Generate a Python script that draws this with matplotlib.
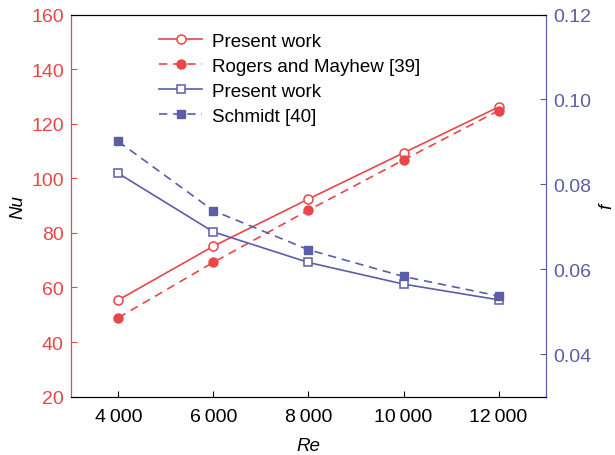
import matplotlib
matplotlib.use("Agg")
import matplotlib.pyplot as plt

plt.rcParams["font.family"] = ["Liberation Sans", "DejaVu Sans"]
plt.rcParams["font.size"] = 13.5

RED = "#e8474a"
BLUE = "#5b5ea6"

re_vals = [4000, 6000, 8000, 10000, 12000]
re_labels = ["4\u2009000", "6\u2009000", "8\u2009000", "10\u2009000", "12\u2009000"]

nu_present = [55.4, 75.1, 92.4, 109.3, 126.1]
nu_rogers = [48.9, 69.2, 88.3, 106.7, 124.8]

f_present = [0.0826, 0.0688, 0.0616, 0.0565, 0.0528]
f_schmidt = [0.0901, 0.0738, 0.0646, 0.0583, 0.0537]

fig, ax = plt.subplots(figsize=(6.15, 4.56), dpi=100)
fig.subplots_adjust(left=0.115, right=0.888, top=0.966, bottom=0.128)
ax2 = ax.twinx()

h1, = ax.plot(re_vals, nu_present, "-o", color=RED, lw=1.2, ms=6.5,
              mfc="white", mec=RED, mew=1.1, label="Present work")
h2, = ax.plot(re_vals, nu_rogers, "--o", color=RED, lw=1.2, ms=6.5,
              mfc=RED, mec=RED, label="Rogers and Mayhew [39]", dashes=(5, 3.5))
h3, = ax2.plot(re_vals, f_present, "-s", color=BLUE, lw=1.2, ms=5.5,
               mfc="white", mec=BLUE, mew=1.1, label="Present work")
h4, = ax2.plot(re_vals, f_schmidt, "--s", color=BLUE, lw=1.2, ms=6,
               mfc=BLUE, mec=BLUE, label="Schmidt [40]", dashes=(5, 3.5))

ax.set_xlim(3000, 13000)
ax.set_ylim(20, 160)
ax2.set_ylim(0.03, 0.12)

ax.set_xticks(re_vals)
ax.set_xticklabels(re_labels)
ax.set_yticks(range(20, 161, 20))
ax2.set_yticks([0.04, 0.06, 0.08, 0.10, 0.12])
ax2.set_yticklabels(["0.04", "0.06", "0.08", "0.10", "0.12"])

ax.tick_params(axis="x", direction="in", length=4, colors="black", labelsize=14, pad=8)
ax.tick_params(axis="y", direction="in", length=4, color=RED, labelcolor=RED,
               labelsize=14, pad=5)
ax2.tick_params(axis="y", direction="in", length=4, color=BLUE, labelcolor=BLUE,
                labelsize=14, pad=5)

for a in (ax, ax2):
    a.spines["left"].set_color(RED)
    a.spines["right"].set_color(BLUE)
    a.spines["top"].set_color("black")
    a.spines["bottom"].set_color("black")

ax.set_xlabel("Re", style="italic", fontsize=13.5, labelpad=9)
ax.set_ylabel("Nu", style="italic", fontsize=13.5, labelpad=3)
ax2.set_ylabel("f", style="italic", fontsize=13.5, labelpad=5)

ax2.legend(handles=[h1, h2, h3, h4], loc="upper left", bbox_to_anchor=(0.17, 0.972),
           frameon=False, fontsize=13.5, handlelength=2.3, labelspacing=0.42,
           handletextpad=0.5, borderaxespad=0)

fig.savefig("out.png", dpi=100)
